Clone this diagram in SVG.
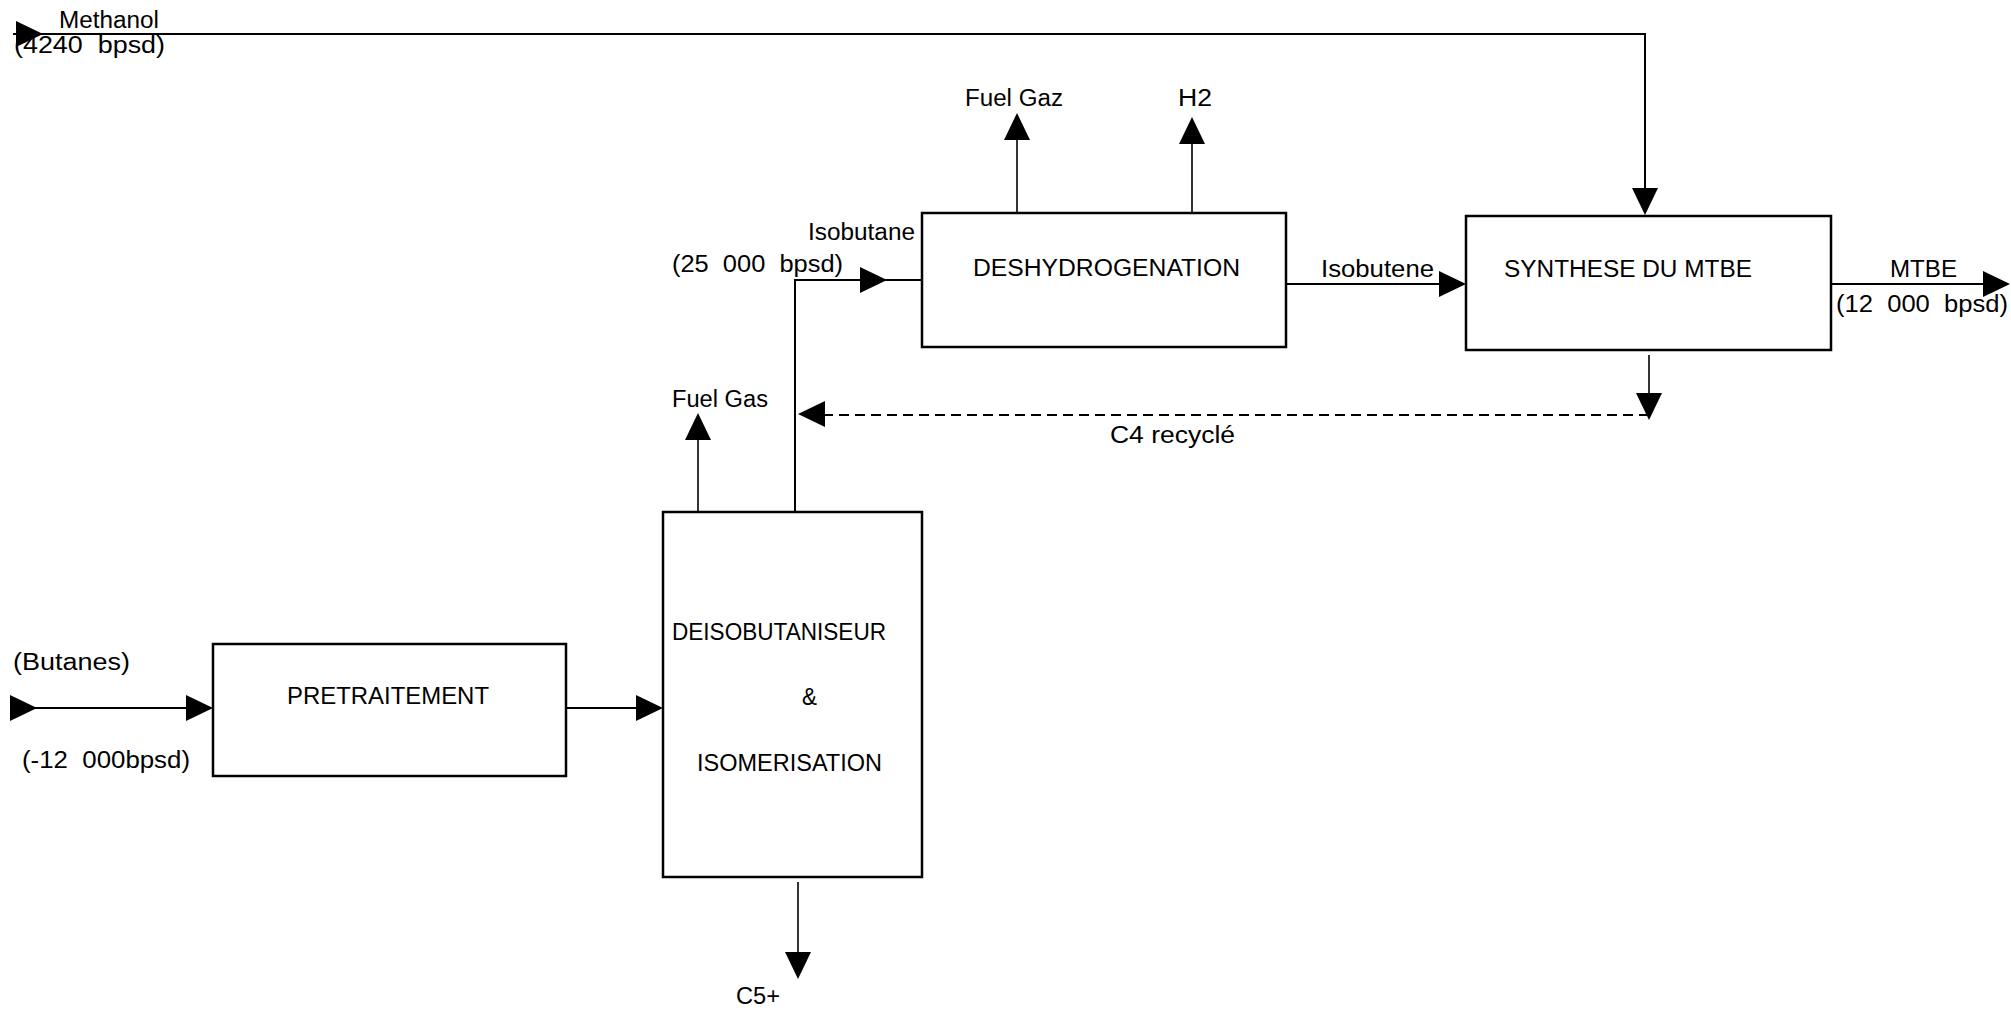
<svg xmlns="http://www.w3.org/2000/svg" xmlns:xlink="http://www.w3.org/1999/xlink" width="2011" height="1012" viewBox="0 0 2011 1012">
<style>
.box{fill:#fff;stroke:#000;stroke-width:2.5}
.ln{fill:none;stroke:#000;stroke-width:2}
.thin{fill:none;stroke:#000;stroke-width:1.6}
.dash{fill:none;stroke:#000;stroke-width:2;stroke-dasharray:10 6}
.ah{fill:#000}
text{font-family:"Liberation Sans",Arial,sans-serif;font-size:23px;fill:#000}
</style>
<defs>
<path id="ah" d="M0,0 L-27,-13 L-27,13 Z"/>
</defs>
<rect width="2011" height="1012" fill="#fff"/>
<g id="connectors">
<path class="ln" d="M13,34 H1645 V192"/>
<path class="thin" d="M1017,213 V140"/>
<path class="thin" d="M1192,213 V144"/>
<path class="ln" d="M795,512 V280 H862"/>
<path class="ln" d="M862,280 H923"/>
<path class="ln" d="M1286,284 H1440"/>
<path class="ln" d="M1831,284 H1985"/>
<path class="thin" d="M1649,355 V395"/>
<path class="dash" d="M1649,415 H822"/>
<path class="thin" d="M698,512 V440"/>
<path class="ln" d="M13,708 H190"/>
<path class="ln" d="M566,708 H640"/>
<path class="thin" d="M798,882 V955"/>
<use xlink:href="#ah" class="ah" transform="translate(43,34)"/>
<use xlink:href="#ah" class="ah" transform="translate(1645,215) rotate(90)"/>
<use xlink:href="#ah" class="ah" transform="translate(1017,113) rotate(-90)"/>
<use xlink:href="#ah" class="ah" transform="translate(1192,117) rotate(-90)"/>
<use xlink:href="#ah" class="ah" transform="translate(887,280)"/>
<use xlink:href="#ah" class="ah" transform="translate(1466,284)"/>
<use xlink:href="#ah" class="ah" transform="translate(2010,284)"/>
<use xlink:href="#ah" class="ah" transform="translate(1649,420) rotate(90)"/>
<use xlink:href="#ah" class="ah" transform="translate(798,414) rotate(180)"/>
<use xlink:href="#ah" class="ah" transform="translate(698,413) rotate(-90)"/>
<use xlink:href="#ah" class="ah" transform="translate(37,708)"/>
<use xlink:href="#ah" class="ah" transform="translate(213,708)"/>
<use xlink:href="#ah" class="ah" transform="translate(663,708)"/>
<use xlink:href="#ah" class="ah" transform="translate(798,979) rotate(90)"/>
</g>
<g id="labels">
<text x="59" y="28" textLength="100" lengthAdjust="spacingAndGlyphs">Methanol</text>
<text x="14" y="53" textLength="151" lengthAdjust="spacingAndGlyphs" xml:space="preserve">(4240  bpsd)</text>
<text x="965" y="106" textLength="98" lengthAdjust="spacingAndGlyphs">Fuel Gaz</text>
<text x="1178" y="106" textLength="34" lengthAdjust="spacingAndGlyphs">H2</text>
<text x="808" y="240" textLength="107" lengthAdjust="spacingAndGlyphs">Isobutane</text>
<text x="672" y="272" textLength="171" lengthAdjust="spacingAndGlyphs" xml:space="preserve">(25  000  bpsd)</text>
<text x="1321" y="277" textLength="113" lengthAdjust="spacingAndGlyphs">Isobutene</text>
<text x="1890" y="277" textLength="67" lengthAdjust="spacingAndGlyphs">MTBE</text>
<text x="1836" y="312" textLength="172" lengthAdjust="spacingAndGlyphs" xml:space="preserve">(12  000  bpsd)</text>
<text x="672" y="407" textLength="96" lengthAdjust="spacingAndGlyphs">Fuel Gas</text>
<text x="1110" y="443" textLength="125" lengthAdjust="spacingAndGlyphs">C4 recyclé</text>
<text x="13" y="670" textLength="117" lengthAdjust="spacingAndGlyphs">(Butanes)</text>
<text x="22" y="768" textLength="168" lengthAdjust="spacingAndGlyphs" xml:space="preserve">(-12  000bpsd)</text>
<text x="736" y="1004" textLength="44" lengthAdjust="spacingAndGlyphs">C5+</text>
</g>
<g id="pretraitement">
<rect class="box" x="213" y="644" width="353" height="132"/>
<text x="287" y="704" textLength="202" lengthAdjust="spacingAndGlyphs">PRETRAITEMENT</text>
</g>
<g id="deisobutaniseur">
<rect class="box" x="663" y="512" width="259" height="365"/>
<text x="672" y="640" textLength="214" lengthAdjust="spacingAndGlyphs">DEISOBUTANISEUR</text>
<text x="802" y="705" textLength="15" lengthAdjust="spacingAndGlyphs">&amp;</text>
<text x="697" y="771" textLength="185" lengthAdjust="spacingAndGlyphs">ISOMERISATION</text>
</g>
<g id="deshydrogenation">
<rect class="box" x="922" y="213" width="364" height="134"/>
<text x="973" y="276" textLength="267" lengthAdjust="spacingAndGlyphs">DESHYDROGENATION</text>
</g>
<g id="synthese">
<rect class="box" x="1466" y="216" width="365" height="134"/>
<text x="1504" y="277" textLength="248" lengthAdjust="spacingAndGlyphs">SYNTHESE DU MTBE</text>
</g>
</svg>
